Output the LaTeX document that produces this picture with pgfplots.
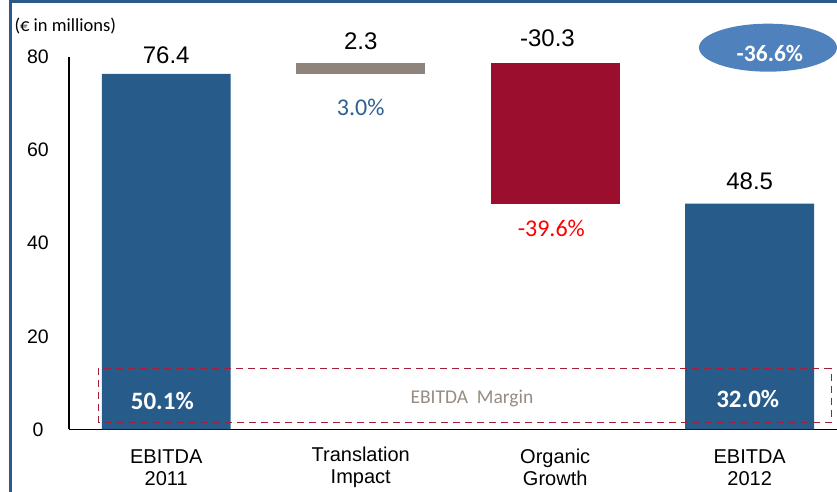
\documentclass[border=0pt]{standalone}
\usepackage{pgfplots}
\pgfplotsset{compat=1.18}
\usetikzlibrary{shapes.geometric}
\usepackage{fontspec}
\setmainfont{Liberation Sans}
\newfontfamily\calibri{Carlito}
\definecolor{barblue}{RGB}{38,91,138}
\definecolor{bargrey}{RGB}{142,132,123}
\definecolor{barred}{RGB}{156,14,45}
\definecolor{ellblue}{RGB}{79,129,189}
\definecolor{dashred}{RGB}{165,30,60}
\definecolor{margingrey}{RGB}{150,140,130}
\definecolor{pctblue}{RGB}{45,95,145}
\definecolor{frameblue}{RGB}{44,90,135}
\begin{document}
\begin{tikzpicture}[x=1pt,y=1pt]
\useasboundingbox (0,0) rectangle (837,492);
\fill[white] (0,0) rectangle (837,492);
\draw[frameblue, line width=2.5pt] (10.5,0) -- (10.5,490.5) -- (837,490.5);
\node[font=\calibri\fontsize{18.5}{20}\selectfont, anchor=west] at (11,466) {(€ in millions)};
\begin{axis}[
  at={(69pt,62.5pt)}, anchor=south west,
  scale only axis, width=768pt, height=372.5pt,
  xmin=-0.5, xmax=3.449, ymin=0, ymax=80,
  axis lines=left, axis line style={-, line width=1.2pt, black},
  ybar stacked, bar width=0.663,
  xtick={0,1,2,3},
  xticklabels={EBITDA\\2011, Translation\\Impact, Organic\\Growth, EBITDA\\2012},
  ytick={0,20,40,60,80},
  major tick length=0,
  clip=false,
  /pgf/number format/assume math mode=true,
  yticklabel style={anchor=center, xshift=-31pt, font=\fontsize{19.5}{22}\selectfont},
  xticklabel style={anchor=center, yshift=-38pt, align=center, font=\fontsize{20}{22}\selectfont},
]
\addplot[draw=none, fill=none] coordinates {(0,0) (1,76.4) (2,48.4) (3,0)};
\addplot[draw=none, fill=barblue] coordinates {(0,76.4) (1,0) (2,0) (3,48.5)};
\addplot[draw=none, fill=bargrey] coordinates {(0,0) (1,2.3) (2,0) (3,0)};
\addplot[draw=none, fill=barred] coordinates {(0,0) (1,0) (2,30.3) (3,0)};

% value labels
\node[anchor=base, font=\fontsize{24}{26}\selectfont] at (axis cs:0,78.7) {76.4};
\node[anchor=base, font=\fontsize{24}{26}\selectfont] at (axis cs:1,81.7) {2.3};
\node[anchor=base, font=\fontsize{24}{26}\selectfont] at (axis cs:1.96,82.2) {-30.3};
\node[anchor=base, font=\fontsize{24}{26}\selectfont] at (axis cs:3,51.6) {48.5};

% percentage labels
\node[anchor=base, text=pctblue, font=\calibri\fontsize{24}{26}\selectfont] at (axis cs:1,67.5) {3.0\%};
\node[anchor=base, text=red, font=\calibri\fontsize{24}{26}\selectfont] at (axis cs:1.98,41.4) {-39.6\%};

% anchors for foreground annotations
\coordinate (ell) at (axis cs:3.094,82.0);
\coordinate (elltxt) at (axis cs:3.104,79.1);
\coordinate (boxA) at (axis cs:-0.349,1.46);
\coordinate (boxB) at (axis cs:3.419,13.1);
\coordinate (mtxt) at (axis cs:1.572,5.6);
\coordinate (p1) at (axis cs:-0.02,4.3);
\coordinate (p2) at (axis cs:2.99,4.8);
\end{axis}
\node[ellipse, fill=ellblue, minimum width=138pt, minimum height=48pt, inner sep=0pt] at (ell) {};
\node[anchor=base, text=white, font=\calibri\bfseries\fontsize{23.5}{26}\selectfont] at (elltxt) {-36.6\%};
\draw[dashred, line width=1.3pt, dash pattern=on 7pt off 5pt] (boxA) rectangle (boxB);
\node[anchor=base, text=margingrey, font=\calibri\fontsize{19.5}{22}\selectfont] at (mtxt) {EBITDA\ \ Margin};
\node[anchor=base, text=white, font=\calibri\bfseries\fontsize{25}{26}\selectfont] at (p1) {50.1\%};
\node[anchor=base, text=white, font=\calibri\bfseries\fontsize{25}{26}\selectfont] at (p2) {32.0\%};
\end{tikzpicture}
\end{document}
